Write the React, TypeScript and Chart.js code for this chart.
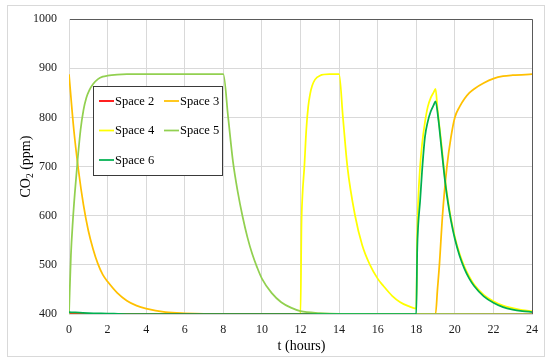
import React, { useEffect, useRef } from "react";
import { Chart, registerables } from "chart.js";

Chart.register(...registerables);

const FONT = '"Liberation Serif", "Times New Roman", serif';

const SERIES_NAMES = ["Space 2", "Space 3", "Space 4", "Space 5", "Space 6"];
const SERIES_COLORS = ["#FF0000", "#FFC000", "#FFFF00", "#92D050", "#00B050"];

const X_TICKS = [0, 2, 4, 6, 8, 10, 12, 14, 16, 18, 20, 22, 24];
const Y_TICKS = [400, 500, 600, 700, 800, 900, 1000];

// Space 2
const T2 = [0, 24];
const V2 = [400, 400];

// Space 3
const T3 = [0, 0.25, 0.5, 0.75, 1, 1.25, 1.5, 1.75, 2, 2.5, 3, 3.5, 4, 5, 6, 7, 19, 19.1, 19.2, 19.36, 19.59, 19.8, 20, 20.25, 20.5, 20.75, 21, 21.5, 22, 22.5, 23, 24];
const V3 = [888, 775, 690, 622, 570, 532, 502, 480, 466, 443, 427, 417, 411, 404, 401.5, 400.5, 400, 450, 500, 600, 700, 760, 800, 822, 838, 850, 858, 870, 879, 884, 886, 888];

// Space 4
const T4 = [0, 12, 12.05, 12.1, 12.2, 12.3, 12.4, 12.5, 12.6, 12.75, 13, 13.5, 14, 14.2, 14.43, 14.83, 15.2, 15.6, 16, 16.3, 16.75, 17.17, 17.6, 18, 18.05, 18.1, 18.2, 18.3, 18.45, 18.6, 18.75, 18.9, 19, 19.1, 19.2, 19.3, 19.5, 19.65, 19.8, 20, 20.25, 20.5, 20.75, 21, 21.5, 22, 22.5, 23, 23.5, 24];
const V4 = [400, 400, 580, 640, 700, 775, 822, 848, 864, 877, 885, 888, 888, 800, 700, 600, 540, 500, 472, 457, 437, 424, 416, 411, 560, 630, 700, 745, 790, 822, 840, 851, 858, 818, 782, 748, 672, 629, 594, 557, 522, 496, 476, 460, 439, 426, 417, 412, 408, 406];

// Space 5
const T5 = [0, 0.1, 0.2, 0.3, 0.45, 0.6, 0.75, 0.9, 1.05, 1.25, 1.5, 1.75, 2, 2.5, 3, 8, 8.25, 8.5, 8.75, 9, 9.25, 9.5, 9.75, 10, 10.5, 11, 11.5, 12, 13, 14, 24];
const V5 = [400, 520, 590, 645, 715, 775, 815, 840, 855, 868, 878, 883, 885, 887, 888, 888, 800, 710, 648, 598, 556, 522, 495, 472, 443, 424, 413, 406, 402, 400.5, 400];

// Space 6
const T6 = [0, 1, 2, 3, 18, 18.05, 18.1, 18.2, 18.3, 18.45, 18.6, 18.75, 18.9, 19, 19.15, 19.3, 19.5, 19.65, 19.8, 20, 20.25, 20.5, 20.75, 21, 21.5, 22, 22.5, 23, 23.5, 24];
const V6 = [404, 402, 401, 400, 400, 530, 580, 630, 690, 760, 792, 812, 825, 833, 795, 740, 668, 625, 590, 553, 518, 492, 472, 457, 436, 423, 414, 409, 406, 404];

const SERIES_T = [T2, T3, T4, T5, T6];
const SERIES_V = [V2, V3, V4, V5, V6];
// drawing order (lower = on top)
const SERIES_ORDER = [2, 3, 4, 1, 0];

const decorPlugin = {
  id: "decor",
  beforeDraw(chart: any) {
    const ctx = chart.ctx;
    ctx.save();
    ctx.fillStyle = "#ffffff";
    ctx.fillRect(0, 0, chart.width, chart.height);
    ctx.strokeStyle = "#d9d9d9";
    ctx.lineWidth = 1;
    ctx.strokeRect(7.5, 5.5, 537, 351);
    ctx.restore();
  },
  afterDraw(chart: any) {
    const ctx = chart.ctx;
    const ca = chart.chartArea;
    ctx.save();
    // legend box
    ctx.fillStyle = "#ffffff";
    ctx.fillRect(93, 86, 129, 89);
    ctx.strokeStyle = "#3a3a3a";
    ctx.lineWidth = 1;
    ctx.strokeRect(93.5, 86.5, 129, 89);
    const pos = [
      [99, 101],
      [164, 101],
      [99, 130.5],
      [164, 130.5],
      [99, 160],
    ];
    ctx.font = `12.5px ${FONT}`;
    ctx.textAlign = "left";
    ctx.textBaseline = "middle";
    SERIES_NAMES.forEach((name, i) => {
      const [x, y] = pos[i];
      ctx.strokeStyle = SERIES_COLORS[i];
      ctx.lineWidth = 1.75;
      ctx.beginPath();
      ctx.moveTo(x, y);
      ctx.lineTo(x + 15, y);
      ctx.stroke();
      ctx.fillStyle = "#000";
      ctx.fillText(name, x + 16, y + 0.5);
    });

    // x title
    ctx.font = `14px ${FONT}`;
    ctx.textAlign = "center";
    ctx.textBaseline = "middle";
    ctx.fillStyle = "#000";
    ctx.fillText("t (hours)", (ca.left + ca.right) / 2 + 1, 346);

    // y title with subscript
    const mainFont = `14px ${FONT}`;
    const subFont = `9.5px ${FONT}`;
    ctx.font = mainFont;
    const w1 = ctx.measureText("CO").width;
    const w3 = ctx.measureText(" (ppm)").width;
    ctx.font = subFont;
    const w2 = ctx.measureText("2").width;
    const total = w1 + w2 + w3;
    ctx.translate(26, (ca.top + ca.bottom) / 2);
    ctx.rotate(-Math.PI / 2);
    ctx.textAlign = "left";
    ctx.textBaseline = "middle";
    const x0 = -total / 2;
    ctx.font = mainFont;
    ctx.fillText("CO", x0, 0);
    ctx.font = subFont;
    ctx.fillText("2", x0 + w1, 4);
    ctx.font = mainFont;
    ctx.fillText(" (ppm)", x0 + w1 + w2, 0);
    ctx.restore();
  },
};

export default function App() {
  const ref = useRef<HTMLCanvasElement | null>(null);

  useEffect(() => {
    document.body.style.margin = "0";
    const canvas = ref.current;
    if (!canvas) return;
    const datasets = SERIES_NAMES.map((name, i) => ({
      label: name,
      data: SERIES_T[i].map((t, j) => ({ x: t, y: SERIES_V[i][j] })),
      borderColor: SERIES_COLORS[i],
      backgroundColor: SERIES_COLORS[i],
      borderWidth: 1.75,
      pointRadius: 0,
      fill: false,
      cubicInterpolationMode: "monotone" as const,
      order: SERIES_ORDER[i],
    }));
    const chart = new Chart(canvas, {
      type: "line",
      data: { datasets },
      options: {
        responsive: false,
        animation: false,
        devicePixelRatio: 1,
        layout: { padding: { top: 14, right: 18, left: 0, bottom: 0 } },
        plugins: {
          legend: { display: false },
          tooltip: { enabled: false },
        },
        scales: {
          x: {
            type: "linear",
            min: 0,
            max: 24,
            afterFit: (s: any) => {
              s.height = 50;
            },
            afterBuildTicks: (s: any) => {
              s.ticks = X_TICKS.map((v) => ({ value: v }));
            },
            ticks: {
              stepSize: 2,
              autoSkip: false,
              maxRotation: 0,
              padding: 9,
              color: "#1a1a1a",
              font: { family: FONT, size: 12 },
              callback: (v: any) => String(v),
            },
            grid: {
              drawTicks: false,
              lineWidth: 1,
              color: (c: any) => (c.tick && c.tick.value === 24 ? "#5a5a5a" : "#d9d9d9"),
            },
            border: { display: true, color: "#d9d9d9", width: 1 },
          },
          y: {
            type: "linear",
            min: 400,
            max: 1000,
            afterFit: (s: any) => {
              s.width = 69;
            },
            afterBuildTicks: (s: any) => {
              s.ticks = Y_TICKS.map((v) => ({ value: v }));
            },
            ticks: {
              stepSize: 100,
              padding: 12,
              color: "#1a1a1a",
              font: { family: FONT, size: 12 },
              callback: (v: any) => String(v),
            },
            grid: {
              drawTicks: false,
              lineWidth: 1,
              color: (c: any) => (c.tick && c.tick.value === 1000 ? "#5a5a5a" : "#d9d9d9"),
            },
            border: { display: true, color: "#d9d9d9", width: 1 },
          },
        },
      },
      plugins: [decorPlugin],
    });
    return () => chart.destroy();
  }, []);

  return (
    <div style={{ position: "absolute", left: 0, top: 0, width: 550, height: 364 }}>
      <canvas ref={ref} width={550} height={364} />
    </div>
  );
}
